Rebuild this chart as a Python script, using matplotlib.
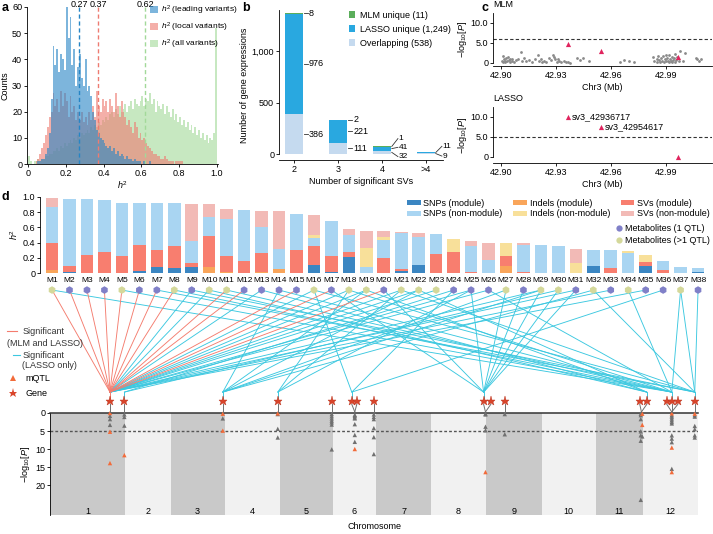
import numpy as np
import matplotlib
matplotlib.use("Agg")
import matplotlib.pyplot as plt
from matplotlib.patches import ConnectionPatch, Patch
from matplotlib.lines import Line2D

plt.rcParams['font.family'] = ['Liberation Sans', 'DejaVu Sans']
plt.rcParams['font.size'] = 6.5
plt.rcParams['mathtext.fontset'] = 'custom'
plt.rcParams['mathtext.rm'] = 'Liberation Sans'
plt.rcParams['mathtext.it'] = 'Liberation Sans:italic'
plt.rcParams['axes.linewidth'] = 0.6
plt.rcParams['xtick.major.width'] = 0.6
plt.rcParams['ytick.major.width'] = 0.6
plt.rcParams['xtick.major.size'] = 2
plt.rcParams['ytick.major.size'] = 2
plt.rcParams['xtick.major.pad'] = 1.5
plt.rcParams['ytick.major.pad'] = 1.5

W, H = 713, 534

# ---------------- data: panel a (counts per 0.01 bin, 0.00 .. 0.99)
h2_lead = [0, 0, 0, 0, 0, 1, 1, 2, 2, 4,
           6, 12, 25, 45, 38, 44, 35, 42, 40, 36,
           60, 48, 56, 38, 44, 30, 37, 42, 33, 30,
           40, 28, 30, 26, 20, 17, 13, 12, 10, 9,
           8, 7, 6, 7, 5, 6, 4, 5, 3, 4,
           3, 2, 3, 2, 2, 1, 2, 1, 1, 1,
           0, 1, 0, 0, 1, 0, 0, 0, 0, 0] + [0] * 30
h2_local = [0, 0, 0, 0, 1, 2, 4, 6, 8, 11,
            14, 18, 20, 27, 22, 25, 20, 28, 22, 27,
            24, 18, 26, 20, 22, 17, 20, 17, 20, 16,
            18, 15, 20, 17, 22, 18, 28, 22, 20, 25,
            22, 24, 20, 25, 22, 20, 27, 22, 18, 24,
            20, 18, 15, 17, 14, 12, 16, 14, 10, 12,
            9, 10, 8, 7, 6, 5, 4, 4, 3, 3,
            2, 2, 3, 2, 1, 1, 1, 0, 1, 1,
            1, 1] + [0] * 18
h2_all = [3, 1, 0, 1, 1, 2, 1, 2, 2, 3,
          3, 4, 4, 5, 5, 6, 5, 7, 6, 8,
          7, 8, 9, 8, 10, 9, 11, 10, 12, 11,
          12, 13, 12, 14, 13, 15, 14, 16, 15, 17,
          16, 18, 17, 19, 20, 18, 21, 19, 22, 20,
          21, 23, 20, 22, 24, 21, 25, 23, 22, 24,
          26, 22, 25, 24, 27, 23, 25, 20, 24, 22,
          21, 23, 19, 22, 20, 18, 21, 17, 19, 16,
          18, 15, 17, 14, 16, 13, 15, 12, 14, 11,
          13, 10, 12, 9, 11, 8, 10, 9, 12, 52]
h2_means = [0.27, 0.37, 0.62]

# ---------------- data: panel b
n_svs = ['2', '3', '4', '>4']
overlapping = [386, 111, 32, 9]
lasso_unique = [976, 221, 41, 11]
mlm_unique = [8, 2, 1, 0]

# ---------------- data: panel c
mlm_pos = [42.9005, 42.9010, 42.9012, 42.9018, 42.9022, 42.9025, 42.9030, 42.9034,
           42.9040, 42.9043, 42.9047, 42.9052, 42.9058, 42.9063, 42.9070, 42.9082,
           42.9095, 42.9108, 42.9115, 42.9125, 42.9138, 42.9152, 42.9168, 42.9185,
           42.9200, 42.9210, 42.9218, 42.9225, 42.9235, 42.9248, 42.9262, 42.9272,
           42.9282, 42.9290, 42.9296, 42.9303, 42.9310, 42.9318, 42.9330, 42.9342,
           42.9355, 42.9368, 42.9378, 42.9412, 42.9430, 42.9448, 42.9480,
           42.9647, 42.9668, 42.9700, 42.9725,
           42.9828, 42.9835, 42.9848, 42.9852, 42.9858, 42.9862, 42.9868, 42.9872,
           42.9878, 42.9882, 42.9888, 42.9892, 42.9898, 42.9902, 42.9906, 42.9910,
           42.9914, 42.9918, 42.9922, 42.9926, 42.9930, 42.9934, 42.9938, 42.9942,
           42.9946, 42.9950, 42.9955, 42.9962, 42.9970, 42.9978, 42.9990, 43.0005,
           43.0063, 43.0070, 43.0078, 43.0090]
mlm_val = [0.5, 1.8, 0.3, 1.0, 0.6, 0.2, 1.2, 0.4,
           1.5, 0.8, 0.3, 1.1, 0.5, 0.9, 0.2, 0.7,
           1.0, 2.7, 0.6, 1.2, 0.4, 0.8, 0.3, 1.0,
           1.9, 0.5, 1.0, 0.2, 0.6, 0.3, 1.3, 0.7,
           2.0, 1.6, 0.9, 0.3, 1.1, 0.5, 0.2, 0.6,
           0.3, 0.2, 0.1, 1.2, 0.8, 1.3, 0.5,
           0.2, 0.7, 0.4, 0.2,
           1.5, 0.6, 1.1, 0.3, 1.8, 0.8, 0.2, 1.2,
           0.5, 1.7, 0.3, 0.9, 2.0, 0.4, 1.3, 0.6,
           1.9, 0.2, 1.0, 0.5, 1.6, 0.3, 0.7, 1.2,
           2.2, 0.3, 0.8, 1.4, 0.5, 3.0, 0.6, 2.4,
           1.2, 0.9, 0.4, 1.1]
mlm_sv_pos = [42.936717, 42.954617, 42.9965]
mlm_sv_val = [4.8, 3.0, 1.4]
lasso_sv_pos = [42.936717, 42.954617, 42.9965]
lasso_sv_val = [10.0, 7.6, 0.0]
lasso_sv_lab = ['sv3_42936717', 'sv3_42954617', '']

# ---------------- data: panel d bars
modules = ['M%d' % i for i in range(1, 39)]
snp_mod = [0, 0.015, 0, 0, 0, 0.03, 0.075, 0.07, 0.08, 0, 0, 0, 0, 0, 0, 0.11, 0.015, 0.21,
           0, 0, 0.026, 0.10, 0, 0, 0, 0, 0, 0, 0, 0, 0, 0.087, 0, 0, 0.09, 0, 0, 0.013]
indel_mod = [0.04, 0, 0, 0, 0, 0, 0, 0, 0, 0.08, 0.01, 0, 0.015, 0.05, 0, 0, 0, 0,
             0, 0, 0, 0, 0, 0, 0, 0, 0.095, 0, 0, 0, 0, 0, 0, 0, 0, 0, 0, 0]
sv_mod = [0.36, 0.08, 0.235, 0.28, 0.22, 0.34, 0.225, 0.29, 0.05, 0.41, 0.215, 0.16, 0.25, 0, 0.30,
          0.25, 0.21, 0.07, 0, 0.195, 0.024, 0, 0.25, 0.27, 0.013, 0, 0.125, 0.013, 0, 0, 0, 0,
          0.06, 0, 0.05, 0.043, 0, 0]
snp_non = [0.47, 0.875, 0.735, 0.685, 0.706, 0.556, 0.626, 0.56, 0.29, 0.245, 0.485, 0.67, 0.335,
           0.26, 0.47, 0.105, 0.46, 0.215, 0.08, 0.245, 0.476, 0.37, 0.26, 0, 0.337, 0.17, 0,
           0.361, 0.365, 0.35, 0, 0.213, 0.24, 0.26, 0, 0.114, 0.078, 0.052]
indel_non = [0, 0, 0, 0, 0, 0, 0, 0, 0, 0, 0, 0, 0, 0, 0, 0.035, 0, 0,
             0.255, 0.04, 0, 0, 0, 0.18, 0, 0, 0.18, 0, 0, 0, 0.13, 0, 0, 0.03, 0.10, 0, 0, 0]
sv_non = [0.11, 0, 0, 0, 0, 0, 0, 0, 0.49, 0.17, 0.13, 0, 0.22, 0.50, 0, 0.265, 0, 0.085,
          0.221, 0.07, 0.014, 0.06, 0, 0, 0.07, 0.23, 0, 0.016, 0, 0, 0.18, 0, 0, 0, 0, 0, 0, 0]
multi_qtl = [1, 0, 0, 0, 1, 0, 0, 1, 0, 1, 1, 0, 0, 0, 0, 1, 0, 1,
             1, 0, 1, 1, 1, 0, 0, 0, 1, 0, 1, 1, 0, 1, 0, 1, 0, 0, 1, 0]

# ---------------- data: panel d genome
chr_len = [90, 55, 65, 66, 64, 52, 66, 66, 67, 65, 57, 66]
gene_chr = [1, 1, 3, 4, 5, 6, 6, 6, 8, 9, 9, 11, 12, 12, 12, 12, 12]
gene_mb = [72.1, 89.4, 62.7, 63.8, 62.7, 22.8, 28.8, 49.3, 63.3, 5.9, 22.7, 53.0, 4.4, 28.5, 34.5, 41.7, 62.1]
locus_chr = [1, 1, 3, 4, 5, 6, 6, 6, 8, 8, 9, 11, 11, 12, 12, 12, 12]
locus_mb = [72.1, 89.4, 62.7, 63.8, 62.7, 26.4, 26.4, 49.3, 65.5, 65.5, 22.7, 55.0, 55.0, 34.5, 34.5, 34.5, 62.1]

qtl_chr = [1] * 6 + [1] * 4 + [3] * 3 + [4] * 4 + [5] * 7 + [6] * 8 + [6] * 6 + [8] * 5 + [9] * 2 \
    + [11] * 7 + [11] * 3 + [12] * 13 + [12] * 7
qtl_mb = [72.1] * 6 + [89.4] * 4 + [62.7] * 3 + [63.8] * 4 + [62.7] * 7 + [26.4] * 8 + [49.3] * 6 \
    + [65.5] * 5 + [22.7] * 2 + [54.2] * 7 + [56.0] * 3 + [34.5] * 13 + [62.1] * 7
qtl_p = [0, 0.8, 1.7, 3.3, 5.2, 13.9,
         0.4, 1.1, 3.5, 11.7,
         0.2, 1.5, 4.9,
         0.3, 0.1, 4.4, 6.8,
         0.3, 0.9, 1.5, 2.1, 2.6, 3.2, 10.1,
         0.5, 0.8, 1.2, 1.5, 3.1, 6.1, 8.0, 10.0,
         0.4, 1.1, 1.7, 4.2, 6.7, 11.4,
         0.2, 0.4, 3.8, 4.8, 16.4,
         0.3, 5.9,
         0.2, 0.6, 1.7, 5.1, 6.2, 7.7, 24.1,
         0.2, 3.3, 6.5,
         0.1, 0.6, 1.0, 1.5, 2.0, 2.5, 2.9, 6.2, 7.1, 8.1, 9.6, 15.5, 16.4,
         0.2, 0.6, 1.0, 3.6, 4.5, 6.2, 6.8]
qtl_is_mqtl = [1, 0, 0, 0, 1, 1,
               0, 0, 0, 1,
               1, 0, 1,
               0, 1, 0, 0,
               0, 0, 0, 0, 0, 0, 0,
               0, 0, 0, 0, 0, 0, 0, 1,
               0, 0, 0, 0, 0, 0,
               0, 0, 0, 0, 1,
               0, 0,
               0, 0, 0, 0, 0, 0, 0,
               1, 1, 0,
               1, 0, 0, 0, 0, 0, 0, 0, 0, 0, 1, 0, 1,
               1, 0, 0, 0, 0, 0, 0]

# metabolite -> gene links (gene index into gene lists)
both_met = [1, 2, 3, 4, 5, 6, 7, 8, 11, 12, 15, 17, 20]
both_gene = [0] * 13
lasso_met = [9, 10, 13, 16, 18, 19, 21, 22, 23, 25, 26, 29, 31, 33, 35,
             24, 30,
             14, 19, 22, 27, 29, 32,
             18, 21, 25,
             16, 24, 36,
             17, 20, 25, 27, 28, 29, 30, 31,
             10, 13, 19, 22,
             1, 5, 8, 11, 14, 18, 26, 34, 37,
             7, 9, 16, 21, 32, 37, 38]
lasso_gene = [0] * 15 + [1] * 2 + [2] * 6 + [3] * 3 + [5] * 3 + [8] * 8 + [12] * 4 + [14] * 9 + [16] * 7

# ---------------- colours
c_blue, c_pink, c_green = '#2685C5', '#EE7B71', '#A3D999'
seg_cols = ['#3B86C2', '#F9A55A', '#F87E6F', '#A9D5F2', '#F8E09A', '#F2BAB6']
c_red_line, c_cyan = '#F47C6E', '#3CC8E0'
c_star, c_mqtl, c_gray = '#D9452B', '#F26B3A', '#707070'


def px(x0, y0, x1, y1):
    return [x0 / W, 1 - y1 / H, (x1 - x0) / W, (y1 - y0) / H]


fig = plt.figure(figsize=(W / 100, H / 100), dpi=100)

# ================= panel a
ax = fig.add_axes(px(27, 7, 218, 164))
bins = np.arange(100) * 0.01
for vals, col in [(h2_all, c_green), (h2_local, c_pink), (h2_lead, c_blue)]:
    ax.bar(bins, vals, width=0.01, align='edge', color=col, alpha=0.6, linewidth=0)
for m, col in zip(h2_means, [c_blue, c_pink, c_green]):
    ax.axvline(m, color=col, ls=(0, (3, 2)), lw=1)
    ax.text(m, 61, '%.2f' % m, ha='center', va='center', fontsize=6.5)
ax.set_xlim(-0.005, 1.005)
ax.set_ylim(0, 60)
ax.set_xticks([0, 0.2, 0.4, 0.6, 0.8, 1.0])
ax.set_xticklabels(['0', '0.2', '0.4', '0.6', '0.8', '1.0'])
ax.set_yticks(range(0, 61, 10))
ax.spines[['top', 'right']].set_visible(False)
ax.set_ylabel('Counts', labelpad=2)
ax.set_xlabel('$h^2$', labelpad=1)
hand = [Patch(color=c, alpha=0.6, lw=0) for c in [c_blue, c_pink, c_green]]
ax.legend(hand, ['$h^2$ (leading variants)', '$h^2$ (local variants)', '$h^2$ (all variants)'],
          loc='upper left', bbox_to_anchor=(148 / W, 1 - 2 / H), bbox_transform=fig.transFigure,
          frameon=False, handlelength=1.0, handleheight=1.0, handletextpad=0.35,
          labelspacing=0.45, borderaxespad=0, borderpad=0.2, fontsize=6)

# ================= panel b
ax = fig.add_axes(px(279, 10, 443, 160))
x = np.arange(len(n_svs))
bw = 0.41
ax.bar(x, overlapping, bw, color='#C5DAEF', lw=0)
ax.bar(x, lasso_unique, bw, bottom=overlapping, color='#29A8E0', lw=0)
ax.bar(x, mlm_unique, bw, bottom=np.add(overlapping, lasso_unique), color='#5BAE5B', lw=0)
ax.set_xlim(-0.34, 3.39)
ax.set_ylim(-58, 1398)
ax.spines[['top', 'right']].set_visible(False)
ax.spines['left'].set_bounds(0, 1398)
ax.set_xticks(x)
ax.set_xticklabels(n_svs)
ax.set_yticks([0, 500, 1000])
ax.set_yticklabels(['0', '500', '1,000'])
ax.set_ylabel('Number of gene expressions', labelpad=2)
ax.set_xlabel('Number of significant SVs', labelpad=2)
for i in range(2):
    b0, b1 = overlapping[i], overlapping[i] + lasso_unique[i]
    segs = [(overlapping[i], b0 / 2), (lasso_unique[i], b0 + lasso_unique[i] / 2),
            (mlm_unique[i], b1 + mlm_unique[i] / 2)]
    for v, yc in segs:
        ax.plot([i + bw / 2 + 0.02, i + bw / 2 + 0.12], [yc, yc], color='#333333', lw=0.6)
        ax.text(i + bw / 2 + 0.14, yc, str(v), va='center', ha='left')
small_lab_y = {2: [150, 65, -25], 3: [75, -20]}
for i, ys in small_lab_y.items():
    b0, b1 = overlapping[i], overlapping[i] + lasso_unique[i]
    segs = [(mlm_unique[i], b1 + mlm_unique[i] / 2), (lasso_unique[i], b0 + lasso_unique[i] / 2),
            (overlapping[i], b0 / 2)]
    if mlm_unique[i] == 0:
        segs = segs[1:]
    for (v, yc), yl in zip(segs, ys):
        ax.plot([i + bw / 2 + 0.02, i + bw / 2 + 0.16], [yc, yl], color='#333333', lw=0.6)
        ax.text(i + bw / 2 + 0.18, yl, str(v), va='center', ha='left', fontsize=6)
hb = [Patch(color=c, lw=0) for c in ['#5BAE5B', '#29A8E0', '#C5DAEF']]
ax.legend(hb, ['MLM unique (11)', 'LASSO unique (1,249)', 'Overlapping (538)'],
          loc='upper left', bbox_to_anchor=(347 / W, 1 - 9 / H), bbox_transform=fig.transFigure,
          frameon=False, handlelength=0.7, handleheight=0.7, handletextpad=0.5,
          labelspacing=0.55, borderaxespad=0, borderpad=0.2)

# ================= panel c
c_tri = '#E0245E'
for rect, ylim, pos, vals, tri_p, tri_v, title, thr in [
        ((493, 13, 712, 66), (-0.75, 12.5), mlm_pos, mlm_val, mlm_sv_pos, mlm_sv_val, 'MLM', 6.0),
        ((493, 107, 712, 163), (-1.5, 12.5), [], [], lasso_sv_pos, lasso_sv_val, 'LASSO', 4.9)]:
    ax = fig.add_axes(px(*rect))
    ax.scatter(pos, vals, s=4, color='#8A8A8A', lw=0)
    ax.scatter(tri_p, tri_v, s=14, marker='^', color=c_tri, lw=0, zorder=3, clip_on=False)
    ax.axhline(thr, color='#333333', ls=(0, (3, 2)), lw=0.8)
    ax.set_xlim(42.8957, 43.015)
    ax.set_ylim(*ylim)
    ax.spines[['top', 'right']].set_visible(False)
    ax.spines['left'].set_bounds(0, ylim[1])
    ax.set_xticks([42.90, 42.93, 42.96, 42.99])
    ax.set_xticklabels(['42.90', '42.93', '42.96', '42.99'])
    ax.set_yticks([0, 5, 10])
    ax.set_yticklabels(['0', '5.0', '10.0'])
    ax.set_xlabel('Chr3 (Mb)', labelpad=2)
    ax.set_ylabel('\u2212log$_{10}$[$P$]', labelpad=1)
    ax.text(0.0, 1.08, title, transform=ax.transAxes, ha='left', va='bottom')
    if title == 'LASSO':
        for p, v, lab in zip(tri_p, tri_v, lasso_sv_lab):
            ax.text(p + 0.0018, v, lab, va='center', ha='left')

# ================= panel d bars
axb = fig.add_axes(px(40, 195, 708, 274))
axb.patch.set_visible(False)
xm = np.arange(len(modules))
bottom = np.zeros(len(modules))
for vals, col in zip([snp_mod, indel_mod, sv_mod, snp_non, indel_non, sv_non], seg_cols):
    axb.bar(xm, vals, 0.72, bottom=bottom, color=col, lw=0)
    bottom = bottom + np.array(vals)
axb.set_xlim(-0.69, 37.57)
axb.set_ylim(-0.013, 1.026)
axb.spines[['top', 'right', 'bottom']].set_visible(False)
axb.spines['left'].set_bounds(0, 1.0)
axb.set_yticks([0, 0.2, 0.4, 0.6, 0.8, 1.0])
axb.set_yticklabels(['0', '0.2', '0.4', '0.6', '0.8', '1.0'])
axb.set_xticks(xm)
axb.set_xticklabels(modules, fontsize=6)
axb.tick_params(axis='x', length=0, pad=2)
axb.set_ylabel('$h^2$', labelpad=2)
dot_y = -0.224
dot_cols = ['#D4D89A' if m else '#8080C8' for m in multi_qtl]
axb.scatter(xm, [dot_y] * len(xm), s=30, marker='h', c=dot_cols, lw=0, clip_on=False, zorder=5)

labs = ['SNPs (module)', 'SNPs (non-module)', 'Indels (module)', 'Indels (non-module)',
        'SVs (module)', 'SVs (non-module)']
order = [0, 3, 1, 4, 2, 5]
hd = [Patch(color=seg_cols[k], lw=0) for k in order]
leg1 = axb.legend(hd, labs, ncol=3, loc='upper left',
                  bbox_to_anchor=(407 / W, 1 - 199 / H), bbox_transform=fig.transFigure,
                  frameon=False, handlelength=1.5, handleheight=0.45, handletextpad=0.3,
                  labelspacing=0.15, columnspacing=1.2, borderaxespad=0, borderpad=0)
axb.add_artist(leg1)
hm = [Line2D([], [], marker='o', ls='none', ms=4.5, mew=0, color=c) for c in ['#8080C8', '#D4D89A']]
axb.legend(hm, ['Metabolites (1 QTL)', 'Metabolites (>1 QTL)'], loc='upper left',
           bbox_to_anchor=(615 / W, 1 - 224 / H), bbox_transform=fig.transFigure,
           frameon=False, handlelength=0.8, handletextpad=0.3, labelspacing=0.3,
           borderaxespad=0, borderpad=0)

# ================= panel d genome axis
axm = fig.add_axes(px(50, 413, 698, 515))
offs = np.concatenate([[0], np.cumsum(chr_len)])
for k in range(len(chr_len)):
    axm.axvspan(offs[k], offs[k + 1], color='#C9C9C9' if k % 2 == 0 else '#F1F1F1', lw=0, zorder=0)
    axm.text((offs[k] + offs[k + 1]) / 2, 27.2, str(k + 1), ha='center', va='center')
axm.set_xlim(0, offs[-1])
axm.set_ylim(28.3, 0)
axm.axhline(5, color='#555555', ls=(0, (2, 1.5)), lw=1, zorder=2)
axm.spines[['right', 'bottom']].set_visible(False)
axm.spines['top'].set_linewidth(1.1)
axm.spines['top'].set_color('#333333')
axm.set_xticks([])
axm.set_yticks([0, 5, 10, 15, 20])
axm.set_ylabel('\u2212log$_{10}$[$P$]', labelpad=2)
axm.set_xlabel('Chromosome', labelpad=5)

qx = [offs[c - 1] + m for c, m in zip(qtl_chr, qtl_mb)]
qcol = [c_mqtl if f else c_gray for f in qtl_is_mqtl]
order_q = np.argsort(qtl_is_mqtl)
axm.scatter(np.array(qx)[order_q], np.array(qtl_p)[order_q], s=10, marker='^',
            c=np.array(qcol)[order_q], lw=0, zorder=3, clip_on=False)

gx = [offs[c - 1] + m for c, m in zip(gene_chr, gene_mb)]
lx = [offs[c - 1] + m for c, m in zip(locus_chr, locus_mb)]
hub_y, star_y = -5.8, -3.3
for g, l in zip(gx, lx):
    axm.plot([g, l], [star_y + 0.9, -0.3], color=c_gray, lw=0.7, clip_on=False, zorder=3)
axm.plot(gx, [star_y] * len(gx), ls='none', marker='*', ms=6.5, color=c_star,
         mec='#B8321C', mew=0.3, clip_on=False, zorder=4)

# links between metabolites and genes
hubs = sorted(set(lasso_gene) | set(both_gene))
for gi in hubs:
    col = c_red_line if gi in both_gene else c_cyan
    axm.plot([gx[gi], gx[gi]], [hub_y, star_y - 1.0], color=col, lw=0.7, clip_on=False)
for mets, genes, col in [(lasso_met, lasso_gene, c_cyan), (both_met, both_gene, c_red_line)]:
    for m, gi in zip(mets, genes):
        con = ConnectionPatch(xyA=(m - 1, dot_y), coordsA=axb.transData,
                              xyB=(gx[gi], hub_y), coordsB=axm.transData,
                              color=col, lw=0.65, zorder=-1)
        fig.add_artist(con)

# left legend of panel d (pixel coordinates)
axl = fig.add_axes(px(0, 320, 50, 400))
axl.set_xlim(0, 50)
axl.set_ylim(400, 320)
axl.axis('off')
axl.plot([7, 17], [331, 331], color=c_red_line, lw=0.8)
axl.text(23, 331, 'Significant', va='center', color='#333333')
axl.text(7, 343, '(MLM and LASSO)', va='center', color='#333333')
axl.plot([13, 20], [355, 355], color=c_cyan, lw=0.8)
axl.text(23, 355, 'Significant', va='center', color='#333333')
axl.text(22, 365, '(LASSO only)', va='center', color='#333333')
axl.plot([13], [378], marker='^', ms=5, color=c_mqtl, mew=0)
axl.text(25, 378, 'mQTL', va='center')
axl.plot([13], [393], marker='*', ms=6.5, color=c_star, mew=0)
axl.text(25, 393, 'Gene', va='center')

# panel letters
for lab, xx, yy in [('a', 2, 8), ('b', 242, 8), ('c', 482, 8), ('d', 2, 197)]:
    fig.text(xx / W, 1 - yy / H, lab, fontsize=9, fontweight='bold', va='center')

fig.savefig('out.png', dpi=100)
